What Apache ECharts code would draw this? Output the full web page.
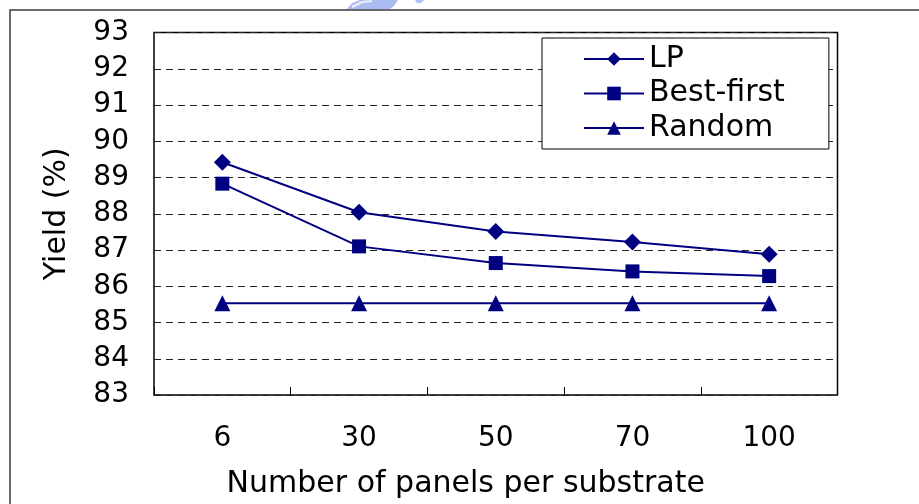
<!DOCTYPE html>
<html>
<head>
<meta charset="utf-8">
<script src="https://cdn.jsdelivr.net/npm/echarts@6/dist/echarts.min.js"></script>
<style>
  html, body { margin: 0; padding: 0; background: #fff; }
  #chart { width: 919px; height: 504px; }
</style>
</head>
<body>
<div id="chart"></div>
<script>
// Panels per substrate (x categories)
const categories = ['6', '30', '50', '70', '100'];

// Yield (%) per allocation method
const lpYield = [89.42, 88.04, 87.51, 87.22, 86.88];
const bestFirstYield = [88.83, 87.10, 86.64, 86.41, 86.28];
const randomYield = [85.53, 85.53, 85.53, 85.53, 85.53];

const seriesNames = ['LP', 'Best-first', 'Random'];

const NAVY = '#000080';
const FONT = 'DejaVu Sans';

const chart = echarts.init(document.getElementById('chart'), null, { renderer: 'canvas' });

function lineSeries(name, data, symbol, size) {
  return {
    name: name,
    type: 'line',
    data: data,
    symbol: symbol,
    symbolSize: size,
    showAllSymbol: true,
    lineStyle: { color: NAVY, width: 2 },
    itemStyle: { color: NAVY, borderWidth: 0 },
    emphasis: { disabled: true },
    animation: false
  };
}

chart.setOption({
  animation: false,
  backgroundColor: '#fff',
  graphic: [
    {
      // outer frame around the figure
      type: 'rect',
      silent: true,
      z: -10,
      shape: { x: 10, y: 10, width: 1000, height: 600 },
      style: { fill: 'none', stroke: '#3a3a3a', lineWidth: 1.5 }
    },
    {
      // faint emblem peeking over the top edge
      type: 'polygon',
      silent: true,
      z: -20,
      shape: { points: [[347, 9], [352, 3], [360, 0], [398, 0], [394, 6], [390, 9]] },
      style: { fill: '#9eb0ee', opacity: 0.85 }
    },
    {
      type: 'polyline',
      silent: true,
      z: -19,
      shape: { points: [[352, 7], [362, 2], [372, 1]] },
      style: { stroke: '#ffffff', lineWidth: 2, opacity: 0.8 }
    },
    {
      type: 'polygon',
      silent: true,
      z: -20,
      shape: { points: [[415, 0], [424, 0], [421, 3], [417, 3]] },
      style: { fill: '#9eb0ee', opacity: 0.8 }
    }
  ],
  grid: {
    left: 154,
    top: 32.5,
    right: 81.5,
    bottom: 106,
    show: true,
    borderColor: '#000',
    borderWidth: 1.5,
    backgroundColor: 'transparent'
  },
  legend: {
    data: seriesNames,
    orient: 'vertical',
    left: 542,
    top: 38,
    padding: [6, 44, 6, 41],
    itemWidth: 60,
    itemHeight: 17,
    itemGap: 4.5,
    backgroundColor: '#fff',
    borderColor: '#000',
    borderWidth: 1,
    textStyle: { fontFamily: FONT, fontSize: 30, color: '#000' },
    selectedMode: false
  },
  xAxis: {
    type: 'category',
    data: categories,
    boundaryGap: true,
    name: 'Number of panels per substrate',
    nameLocation: 'middle',
    nameGap: 74,
    nameTextStyle: { fontFamily: FONT, fontSize: 30, color: '#000', padding: [0, 60, 0, 0] },
    axisLine: { show: false },
    axisTick: { show: true, inside: true, length: 8, lineStyle: { color: '#000', width: 1 } },
    axisLabel: { fontFamily: FONT, fontSize: 28, color: '#000', margin: 30 },
    splitLine: { show: false }
  },
  yAxis: {
    type: 'value',
    min: 83,
    max: 93,
    interval: 1,
    name: 'Yield (%)',
    nameLocation: 'middle',
    nameGap: 82,
    nameTextStyle: { fontFamily: FONT, fontSize: 30, color: '#000' },
    axisLine: { show: false },
    axisTick: { show: false },
    axisLabel: { fontFamily: FONT, fontSize: 28, color: '#000', margin: 25 },
    splitLine: { show: true, lineStyle: { color: '#222', width: 1, type: [7, 5] } }
  },
  series: [
    lineSeries(seriesNames[0], lpYield, 'diamond', 17),
    lineSeries(seriesNames[1], bestFirstYield, 'rect', 14),
    lineSeries(seriesNames[2], randomYield, 'triangle', 16)
  ]
});
</script>
</body>
</html>
